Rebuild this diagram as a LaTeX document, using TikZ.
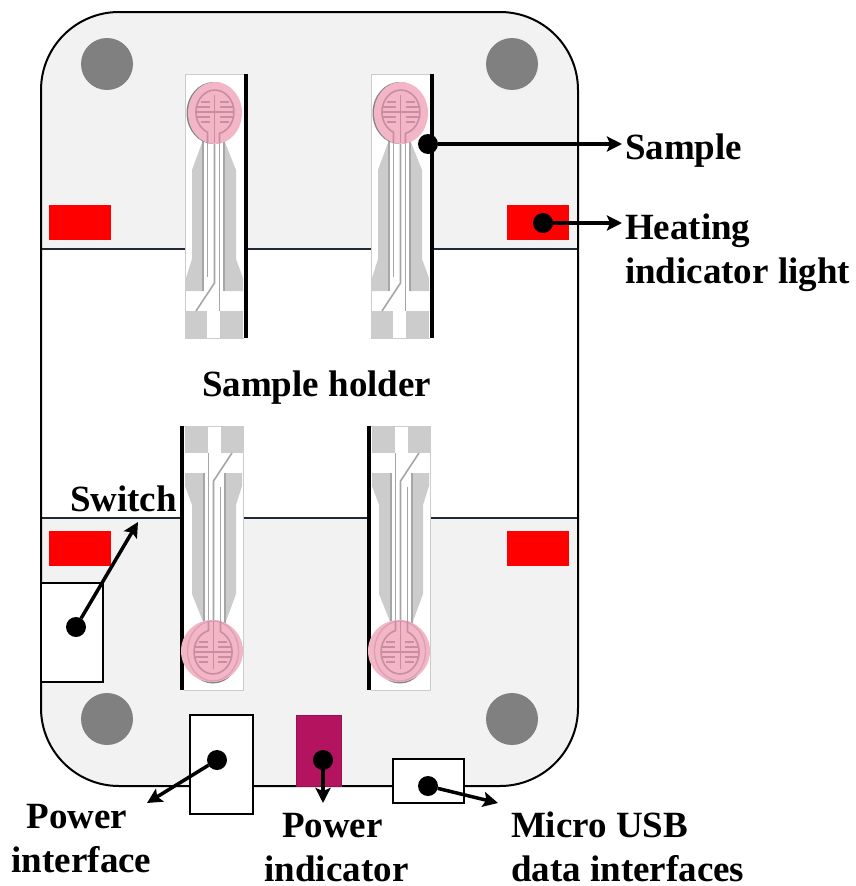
\documentclass[tikz,border=0pt]{standalone}
\usepackage{fontspec}
\setmainfont{Liberation Serif}
\usetikzlibrary{arrows.meta}
\definecolor{boardfill}{HTML}{F2F2F2}
\definecolor{bandline}{HTML}{1F2A36}
\definecolor{foilgray}{HTML}{CCCCCC}
\definecolor{tracegray}{HTML}{A6A6A6}
\definecolor{gaugepink}{HTML}{F3B6C6}
\definecolor{gridpink}{HTML}{C98DA3}
\definecolor{leddark}{HTML}{B3135F}
\definecolor{pegfill}{HTML}{808080}
\tikzset{
  redled/.style={fill=red,draw=none},
  peg/.style={circle,fill=pegfill,draw=none,minimum size=52,inner sep=0,outer sep=0},
  whitebox/.style={rectangle,draw=black,line width=1.6,fill=white,inner sep=0,outer sep=0},
  ledbox/.style={rectangle,draw=leddark!85!black,line width=0.8,fill=leddark,inner sep=0,outer sep=0},
  dot/.style={circle,fill=black,draw=none,minimum size=20,inner sep=0,outer sep=0},
  pointer/.style={line width=3.5,draw=black,-{Stealth[length=15,width=15,inset=3]}},
  label/.style={font=\fontsize{37}{44}\selectfont\bfseries,inner sep=0,outer sep=0,align=left,text depth=0},
  foil/.style={fill=foilgray,draw=none},
  trace/.style={draw=tracegray,line width=1.6},
  grid/.style={draw=gridpink,line width=1.6},
}
% local gauge art: #1 shadow shift, #2 extra pink disc radius (0 = none)
\newcommand{\gaugeart}[2]{%
  \fill[white] (-30,0) rectangle (29,264);
  \draw[foilgray,line width=1] (29,0) -- (-30,0) -- (-30,264) -- (29,264);
  \fill[black] (29.3,0) rectangle (32.8,264);
  \path[foil] (-12,66) -- (-23,96) -- (-23,185) -- (-29,204) -- (-29,217) -- (-12,217) -- cycle;
  \path[foil] (9,66) -- (21,96) -- (21,185) -- (28,204) -- (28,217) -- (9,217) -- cycle;
  \path[foil] (-30,237) rectangle (-8,264);
  \path[foil] (5,237) rectangle (28,264);
  \draw[trace] (-12,60) -- (-12,217);
  \draw[trace] (9,60) -- (9,217);
  \draw[trace] (-7.5,60) -- (-7.5,203);
  \draw[trace] (-0.5,60) -- (-0.5,209) -- (-19,237);
  \draw[trace] (4.5,60) -- (4.5,237);
  \fill[tracegray!80!black] ([shift={#1}]0,39) ellipse [x radius=27,y radius=31];
  \fill[gaugepink] (0,39) ellipse [x radius=27,y radius=31];
  \ifnum#2>0
    \fill[gaugepink] (1,39) circle [radius=#2];
    \draw[gridpink!55!gaugepink,line width=1.3] (0,39) ellipse [x radius=25.5,y radius=30];
  \fi
  \draw[grid] (-7.5,69) -- (-7.5,58.3) arc [start angle=113,end angle=436,x radius=19,y radius=22] -- (4.5,69);
  \draw[grid] (-0.5,21) -- (-0.5,69);
  \draw[grid] (-14,28) -- (-5,28) (5,28) -- (14,28);
  \draw[grid] (-18,33) -- (-5,33) (5,33) -- (18,33);
  \draw[grid] (-19,38) -- (19,38);
  \draw[grid] (-18,43) -- (-5,43) (5,43) -- (18,43);
  \draw[grid] (-14,48) -- (-5,48) (5,48) -- (14,48);
}
\begin{document}
\begin{tikzpicture}[x=1pt,y=-1pt]
\useasboundingbox (0,0) rectangle (855,886);
% board
\fill[boardfill,rounded corners=78] (41,12) rectangle (578,786);
\fill[white] (41,249) rectangle (578,518);
\draw[bandline,line width=1.8] (41,249) -- (578,249);
\draw[bandline,line width=1.8] (41,518) -- (578,518);
\draw[black,line width=2,rounded corners=78] (41,12) rectangle (578,786);
% heating lights
\fill[redled] (49,205) rectangle (111,240);
\fill[redled] (507,205) rectangle (569,240);
\fill[redled] (49,531) rectangle (111,566);
\fill[redled] (507,531) rectangle (569,566);
% pegs
\node[peg] (pegtl) at (107,64) {};
\node[peg] (pegtr) at (512,64) {};
\node[peg] (pegbl) at (107,719) {};
\node[peg] (pegbr) at (512,719) {};
% gauges
\begin{scope}[shift={(215,74)}]\gaugeart{(-1.5,0)}{0}\end{scope}
\begin{scope}[shift={(401,74)}]\gaugeart{(-1.5,0)}{0}\end{scope}
\begin{scope}[shift={(213,690)},rotate=180]\gaugeart{(0,-1.5)}{31}\end{scope}
\begin{scope}[shift={(400,690)},rotate=180]\gaugeart{(0,-1.5)}{31}\end{scope}
% boxes on the edge
\node[whitebox,minimum width=62,minimum height=99] (switchbox) at (72,632.5) {};
\node[whitebox,minimum width=63,minimum height=99] (powerbox) at (221.5,764.5) {};
\node[ledbox,minimum width=45,minimum height=71] (ledbox) at (318.5,750.5) {};
\node[whitebox,minimum width=71,minimum height=44] (usbbox) at (428.5,781) {};
% dots
\node[dot] (dsample) at (428,144) {};
\node[dot] (dheat) at (543,223) {};
\node[dot] (dswitch) at (76,627) {};
\node[dot] (dpower) at (217,760) {};
\node[dot] (dled) at (323,760) {};
\node[dot] (dusb) at (428,786) {};
% free ends
\coordinate (esample) at (622,144);
\coordinate (eheat) at (622,223);
\coordinate (eswitch) at (138,522);
\coordinate (epower) at (147,803);
\coordinate (eled) at (323,803);
\coordinate (eusb) at (498,803);
\draw[pointer] (dsample) -- (esample);
\draw[pointer] (dheat) -- (eheat);
\draw[pointer] (dswitch) -- (eswitch);
\draw[pointer] (dpower) -- (epower);
\draw[pointer] (dled) -- (eled);
\draw[pointer] (dusb) -- (eusb);
% labels
\node[label,anchor=base west] (tsample) at (625,159) {Sample};
\node[label,anchor=west] (theat) at (625,249) {Heating\\indicator light};
\node[label,anchor=base west] (tholder) at (202,396) {Sample holder};
\node[label,anchor=base west] (tswitch) at (70,511) {Switch};
\node[label,anchor=center,align=center] (tpower) at (81.5,838) {Power\hspace*{9pt}\\interface};
\node[label,anchor=center,align=center] (tled) at (336.5,847) {Power\hspace*{8pt}\\indicator};
\node[label,anchor=west] (tusb) at (511,847) {Micro USB\\data interfaces};
\end{tikzpicture}
\end{document}
